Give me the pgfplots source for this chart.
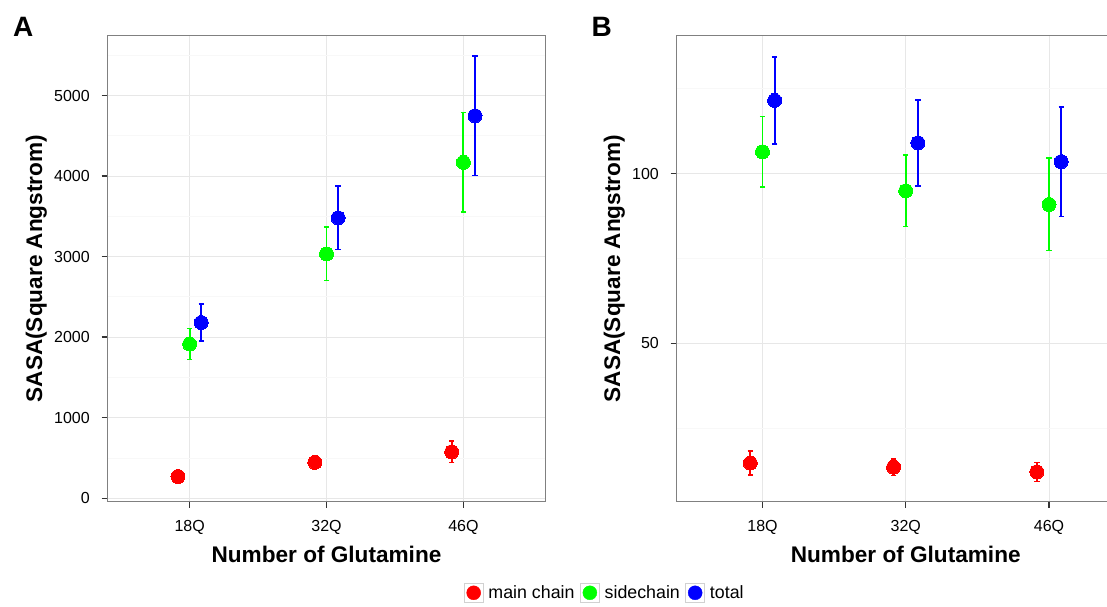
\documentclass[border=0pt]{standalone}
\usepackage{pgfplots}
\pgfplotsset{compat=1.18}
\usepackage{fontspec}
\setmainfont{Liberation Sans}
\definecolor{gg50}{gray}{0.5}
\definecolor{gg90}{gray}{0.905}
\definecolor{gg98}{gray}{0.972}
\definecolor{ggred}{RGB}{255,0,0}
\definecolor{gggreen}{RGB}{0,255,0}
\definecolor{ggblue}{RGB}{0,0,255}

\pgfplotsset{
  sasa/.style={
    scale only axis, height=465.8pt,
    xmin=0.4, xmax=3.6, xtick={1,2,3}, xticklabels={18Q,32Q,46Q},
    axis line style={gg50, line width=1.2pt},
    tick align=outside, tick pos=left,
    major tick length=6pt, minor tick length=0pt,
    every major tick/.append style={black!80, line width=1.4pt},
    xmajorgrids, ymajorgrids, yminorgrids,
    major grid style={gg90, line width=0.9pt},
    minor grid style={gg98, line width=0.9pt},
    ticklabel style={font=\fontsize{16}{16}\selectfont, inner sep=0pt},
    /pgf/number format/assume math mode=true,
    /pgf/number format/1000 sep={},
    scaled y ticks=false,
    yticklabel style={anchor=east, xshift=-11.5pt},
    xticklabel style={anchor=north, yshift=-12.5pt},
    label style={font=\fontsize{22.6}{24}\selectfont\bfseries},
    xlabel={Number of Glutamine}, ylabel={SASA(Square Angstrom)},
    xlabel style={at={(axis description cs:0.5,-0.131)}, anchor=base},
  },
  pt/.style={only marks, mark=*, mark size=7pt, color=#1,
    mark options={draw=#1, fill=#1, line width=0pt},
    legend image code/.code={\draw[black!18, fill=white, line width=0.6pt] (-9.5pt,-9.5pt) rectangle (9.5pt,9.5pt); \fill[#1] (0pt,0pt) circle (7pt);},
    error bars/.cd, y dir=both, y explicit,
    error bar style={line width=1.9pt, color=#1},
    error mark options={rotate=90, line width=1.5pt, mark size=2.7pt, color=#1}},
}

\begin{document}
\begin{tikzpicture}
\path[use as bounding box] (0,0) rectangle (1107pt,606pt);
\clip (0,0) rectangle (1107pt,606pt);

\node[anchor=base west, inner sep=0pt, font=\fontsize{28}{28}\selectfont\bfseries] at (13pt,569pt) {A};
\node[anchor=base west, inner sep=0pt, font=\fontsize{28}{28}\selectfont\bfseries] at (591.5pt,569pt) {B};

\begin{axis}[sasa, at={(107.5pt,104.5pt)}, anchor=south west, width=438pt,
  ymin=-41, ymax=5745, ytick={0,1000,2000,3000,4000,5000},
  minor ytick={500,1500,2500,3500,4500,5500},
  ylabel style={at={(axis description cs:-0.1495,0.5)}, anchor=base},
  legend style={at={(axis description cs:1.133,-0.196)}, anchor=center, draw=none, fill=none,
    legend columns=3, font=\fontsize{17.8}{18}\selectfont, inner sep=0pt,
    nodes={inner sep=0pt},
    /tikz/every odd column/.append style={column sep=5pt},
    /tikz/every even column/.append style={column sep=5.5pt}},
  legend cell align=left]
\addplot[pt=ggred] coordinates {(0.915,270) +- (0,45) (1.915,445) +- (0,40) (2.915,575) +- (0,133)};
\addplot[pt=gggreen] coordinates {(1,1914) +- (0,192) (2,3035) +- (0,333) (3,4172) +- (0,619)};
\addplot[pt=ggblue] coordinates {(1.085,2182) +- (0,232) (2.085,3482) +- (0,395) (3.085,4750) +- (0,741)};
\legend{main chain, sidechain, total}
\end{axis}

\begin{axis}[sasa, at={(676.5pt,104.5pt)}, anchor=south west, width=458.5pt,
  ymin=3.5, ymax=140.55, ytick={50,100}, minor ytick={25,75,125},
  ylabel style={at={(axis description cs:-0.1232,0.5)}, anchor=base}]
\addplot[pt=ggred] coordinates {(0.915,14.8) +- (0,3.5) (1.915,13.6) +- (0,2.4) (2.915,12.2) +- (0,2.8)};
\addplot[pt=gggreen] coordinates {(1,106.4) +- (0,10.4) (2,94.9) +- (0,10.5) (3,90.9) +- (0,13.6)};
\addplot[pt=ggblue] coordinates {(1.085,121.5) +- (0,12.8) (2.085,109.0) +- (0,12.6) (3.085,103.5) +- (0,16.1)};
\end{axis}
\end{tikzpicture}
\end{document}
